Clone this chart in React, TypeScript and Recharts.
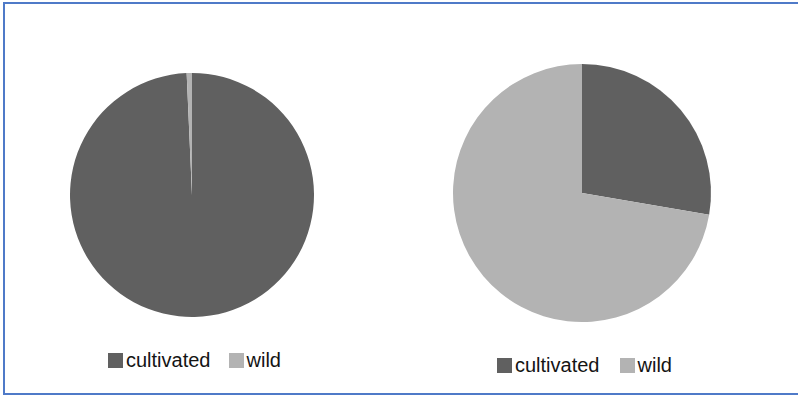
import { Cell, Legend, Pie, PieChart } from "recharts";

// share of production by origin, two samples
const origins = ["cultivated", "wild"];
const leftShares = [99.3, 0.7];
const rightShares = [27.7, 72.3];
const sliceColors = ["#606060", "#b3b3b3"];

const toRows = (shares: number[]) => origins.map((name, i) => ({ name, value: shares[i] }));

const FONT = '"Liberation Sans", Arial, sans-serif';

function LegendRow({ payload, gap }: { payload?: any[]; gap: number }) {
  return (
    <div style={{ display: "flex", alignItems: "center", fontFamily: FONT, fontSize: 20, color: "#141414", whiteSpace: "nowrap" }}>
      {(payload ?? []).map((p: any) => (
        <div key={p.value} style={{ display: "flex", alignItems: "center", marginRight: gap }}>
          <span style={{ display: "inline-block", width: 15, height: 15, background: p.color, marginRight: 3 }} />
          <span style={{ lineHeight: "20px" }}>{p.value}</span>
        </div>
      ))}
    </div>
  );
}

function OriginPie({ shares, width, cx, cy, r, legendLeft, legendTop, gap }: {
  shares: number[]; width: number; cx: number; cy: number; r: number; legendLeft: number; legendTop: number; gap: number;
}) {
  return (
    <PieChart width={width} height={396} margin={{ top: 0, right: 0, bottom: 0, left: 0 }}>
      <Pie
        data={toRows(shares)}
        dataKey="value"
        nameKey="name"
        cx={cx}
        cy={cy}
        outerRadius={r}
        startAngle={90}
        endAngle={-270}
        stroke="none"
        isAnimationActive={false}
      >
        {origins.map((o, i) => <Cell key={o} fill={sliceColors[i]} />)}
      </Pie>
      <Legend
        content={(props: any) => <LegendRow payload={props.payload} gap={gap} />}
        wrapperStyle={{ left: legendLeft, top: legendTop, width: "auto", bottom: "auto" }}
      />
    </PieChart>
  );
}

export default function App() {
  return (
    <div style={{ position: "absolute", left: 0, top: 0, width: 798, height: 396, background: "#fff", overflow: "hidden" }}>
      <div style={{ position: "absolute", left: 3, top: 2, width: 820, height: 393, border: "2px solid #4f7ac8", boxSizing: "border-box" }} />
      <div style={{ position: "absolute", left: 0, top: 0 }}>
        <OriginPie shares={leftShares} width={390} cx={192} cy={195} r={122} legendLeft={108} legendTop={350} gap={18} />
      </div>
      <div style={{ position: "absolute", left: 390, top: 0 }}>
        <OriginPie shares={rightShares} width={408} cx={192} cy={193} r={129} legendLeft={107} legendTop={355} gap={20} />
      </div>
    </div>
  );
}
